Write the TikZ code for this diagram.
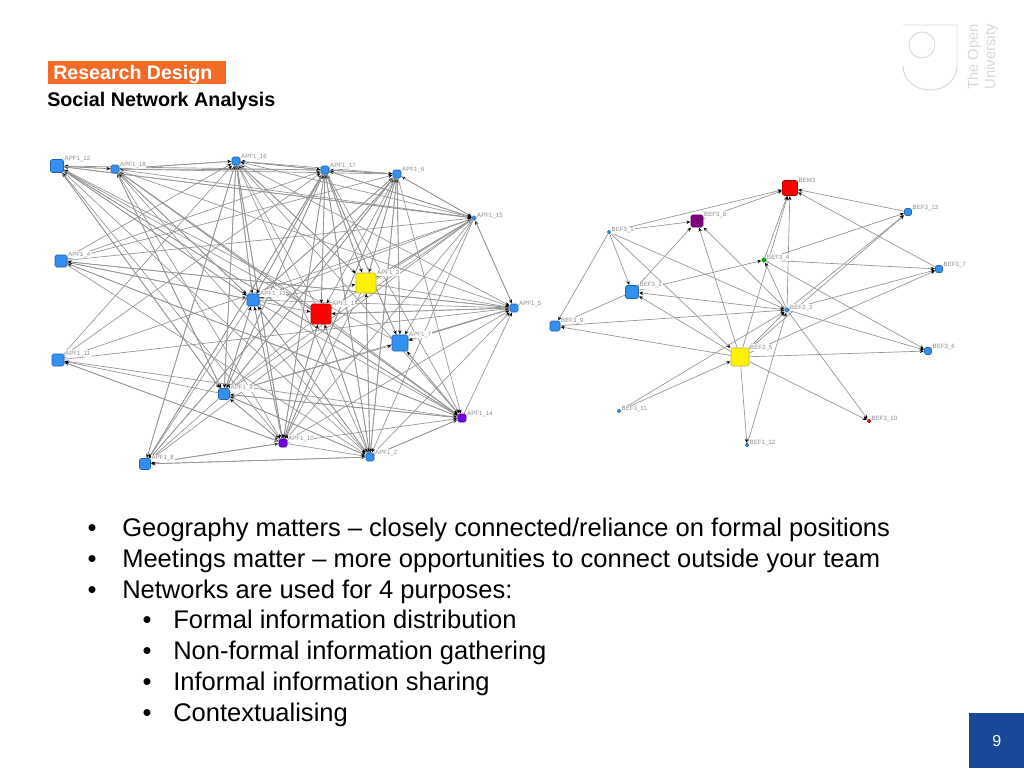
\documentclass[tikz,border=0pt]{standalone}
\usepackage{fontspec}
\setmainfont{Liberation Sans}
\usetikzlibrary{arrows.meta,backgrounds}
\definecolor{ouorange}{RGB}{241,106,38}
\definecolor{oublue}{RGB}{26,72,152}
\definecolor{netblue}{RGB}{51,143,240}
\definecolor{netpurple}{RGB}{112,0,224}
\definecolor{netplum}{RGB}{128,0,128}
\definecolor{logogrey}{RGB}{216,216,216}
\tikzset{
  netnode/.style={draw=#1!70!black,fill=#1,rounded corners=1.2pt,inner sep=0pt,line width=0.4pt},
  netlabel/.style={anchor=west,inner sep=0.5pt,fill=white,text=black!45,font=\fontsize{4.6}{5}\selectfont},
  netedge/.style={draw=black!42,line width=0.5pt,{Stealth[length=3pt,width=2.6pt,black]}-,shorten <=0.3pt},
  bodytext/.style={anchor=base west,inner sep=0pt,font=\fontsize{19.15}{22}\selectfont},
  bullettext/.style={anchor=base,inner sep=0pt,font=\fontsize{19.15}{22}\selectfont},
  logotext/.style={rotate=90,text=logogrey,inner sep=0pt,anchor=base west},
}
\newcommand{\netbox}[4]{\node [netnode=#4,minimum size=#3*0.75pt] (#1) at (#2) {};}
\begin{document}
\begin{tikzpicture}[x=0.75pt,y=0.75pt,yscale=-1]
\useasboundingbox (0,0) rectangle (1024,768);

% header
\node [fill=ouorange,anchor=north west,minimum width=178*0.75pt,minimum height=23*0.75pt,inner sep=0pt] (header) at (48,61) {};
\node [anchor=base west,text=white,inner sep=0pt,font=\fontsize{14.7}{18}\bfseries\selectfont] (headertext) at (53,79) {Research Design};
\node [anchor=base west,inner sep=0pt,font=\fontsize{14.8}{18}\bfseries\selectfont] (subhead) at (47,106) {Social Network Analysis};

% logo
\draw [logogrey,line width=0.7pt] (903,25) -- (957,25) -- (957,66) .. controls (957,80) and (945,90) .. (930,90) .. controls (915,90) and (903,80) .. (903,66);
\draw [logogrey,line width=0.7pt] (922,45) circle [radius=13];
\node [logotext,font=\fontsize{11}{14}\selectfont] (logoone) at (978,90) {The Open};
\node [logotext,font=\fontsize{11.2}{14}\selectfont] (logotwo) at (995,90) {University};

% left network
\netbox{a12}{57,166}{13}{netblue}
\netbox{a18}{115,169}{8}{netblue}
\netbox{a16}{236,161}{8}{netblue}
\netbox{a17}{325,170}{8}{netblue}
\netbox{a6}{397,174}{8}{netblue}
\netbox{a15}{474,218}{4}{netblue}
\netbox{a5}{514,308}{8}{netblue}
\netbox{a14}{462,418}{8}{netpurple}
\netbox{a2}{370,457}{8}{netblue}
\netbox{a10}{283,443}{8}{netpurple}
\netbox{a8}{145,464}{11}{netblue}
\netbox{a9}{224,394}{11}{netblue}
\netbox{a11}{58,360}{12}{netblue}
\netbox{a4}{61,261}{12}{netblue}
\netbox{a13}{253,300}{12}{netblue}
\netbox{ared}{321,314}{20}{red}
\netbox{ayel}{366,283}{20}{yellow}
\netbox{ablu}{400,343}{16}{netblue}

% right network
\netbox{bem}{790,188}{15}{red}
\netbox{b13}{908,212}{7}{netblue}
\netbox{b7}{939,269}{7}{netblue}
\netbox{b6}{928,351}{7}{netblue}
\netbox{b10}{869,421}{3}{red}
\netbox{b12}{747,445}{3}{netblue}
\netbox{b5}{740,357}{18}{yellow}
\netbox{b3}{787,310}{4}{netblue}
\netbox{b4}{764,260}{4}{green!70!black}
\netbox{b8}{697,221}{12}{netplum}
\netbox{b1}{609,232}{3}{netblue}
\netbox{b2}{632,292}{13}{netblue}
\netbox{b9}{555,326}{10}{netblue}
\netbox{b11}{619,411}{3}{netblue}

\begin{scope}[on background layer]
% each line: node with the tip / nodes the edges come from
\foreach \dst/\srclist in {
  a12/{a18,a17,a15,a13,ared,a9,a10,a14,ablu},
  a18/{a12,a16,a17,a6,a13,ared,a9,a2,a14},
  a16/{a18,a17,a6,a15,a13,ared,ayel,a9,a10,a8,a4,a11},
  a17/{a16,a6,a15,a13,ared,ayel,ablu,a9,a10,a2,a8,a4,a11},
  a6/{a17,a15,ayel,ablu,a13,a9,a10,a2,a8,a4},
  a15/{a6,a17,a12,a18,a5,a4,a11,ayel},
  a5/{a15,a14,a13,ared,ayel,ablu,a9,a10,a2,a4,a11,a16,a18},
  a14/{a12,a18,a16,a17,a6,ared,ablu,a13,a9,a10,a2,a4,a11},
  a2/{a16,a17,a6,a15,a13,ared,ayel,a9,a10,a12,a4,a14,a8},
  a10/{a18,a16,a17,a6,a15,a13,ared,ayel,a9,a11,a8},
  a9/{a12,a16,a18,a17,a6,a15,a13,ared,a10,a2,a14},
  a13/{a16,a17,a6,a15,a4,a12,a18,a9,a10,a2},
  ared/{a17,a5,a15,a6,a10,a2,a4},
  ayel/{a16,a17,a6,a15,a13,a2},
  ablu/{a6,a17,a15,a5,a14,a9},
  a4/{a5,a14},
  a11/{a9,a10},
  a8/{a9,a10,a2,a15,a6,a17,a16,a13}}{
  \foreach \src in \srclist {
    \draw [netedge] (\dst) -- (\src);
  }
}
\foreach \src/\dst in {b1/b8,b1/b2,b1/b9,b1/b3,b1/b5,b1/bem,b8/bem,b3/b8,b5/b8,b2/b8,b2/b4,b3/b2,b5/b2,b2/b9,b5/b9,b9/b3,b11/b5,b11/b3,b5/b12,b5/b10,b5/b6,b5/b7,b5/bem,b3/bem,b4/bem,b3/b4,b12/b3,b3/b13,b4/b13,b3/b7,b3/b6,b3/b10,b4/b7,b4/b6,b13/bem,b7/bem,b3/b5,b5/b3,b5/b13}{
  \draw [netedge] (\dst) -- (\src);
}
\end{scope}

% labels
\foreach \nm/\txt in {a12/APF1\_12,a18/APF1\_18,a16/APF1\_16,a17/APF1\_17,a6/APF1\_6,a15/APF1\_15,a5/APF1\_5,a14/APF1\_14,a2/APF1\_2,a10/APF1\_10,a8/APF1\_8,a9/APF1\_9,a11/APF1\_11,a4/APF1\_4,a13/APF1\_13,ared/APF1\_1,ayel/APF1\_3,ablu/APF1\_7,bem/BEM3,b13/BEF3\_13,b7/BEF3\_7,b6/BEF3\_6,b10/BEF3\_10,b12/BEF1\_12,b5/BEF3\_5,b3/BEF3\_3,b4/BEF3\_4,b8/BEF3\_8,b1/BEF3\_1,b2/BEF3\_2,b9/BEF3\_9,b11/BEF3\_11}{
  \node [netlabel] (lab\nm) at (\nm.north east) {\txt};
}

% body text
\foreach \yy/\txt in {536/{Geography matters -- closely connected/reliance on formal positions},567/Meetings matter -- more opportunities to connect outside your team,598/Networks are used for 4 purposes:}{
  \node [bullettext] (b\yy) at (92,\yy) {•};
  \node [bodytext] (t\yy) at (122,\yy) {\txt};
}
\foreach \yy/\txt in {628/Formal information distribution,659/Non-formal information gathering,690/Informal information sharing,721/Contextualising}{
  \node [bullettext] (b\yy) at (147,\yy) {•};
  \node [bodytext] (t\yy) at (173,\yy) {\txt};
}

% page number
\node [fill=oublue,text=white,anchor=north west,minimum size=55*0.75pt,inner sep=0pt,font=\fontsize{12}{14}\selectfont] (pagenum) at (969,713) {9};

\end{tikzpicture}
\end{document}
